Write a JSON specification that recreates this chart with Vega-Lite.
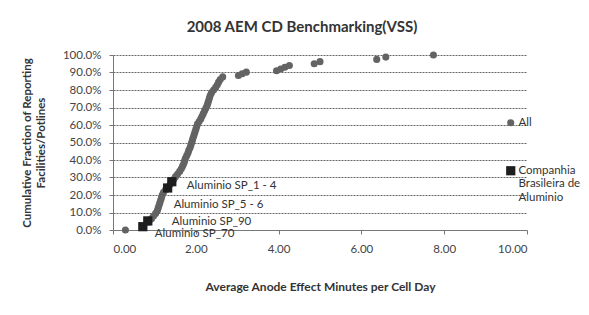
{
  "$schema": "https://vega.github.io/schema/vega-lite/v6.json",
  "width": 414,
  "height": 175,
  "autosize": {"type": "none"},
  "padding": {"left": 113, "top": 55, "right": 62, "bottom": 85},
  "background": "white",
  "title": {"text": "2008 AEM CD Benchmarking(VSS)", "font": "Lato", "fontSize": 15, "fontWeight": "bold", "color": "#333333", "offset": 14, "dx": -18},
  "data": {"values": [
    {"x": 0.30, "y": 0.000, "series": "All"},
    {"x": 0.74, "y": 0.015, "series": "All"},
    {"x": 0.86, "y": 0.045, "series": "All"},
    {"x": 0.93, "y": 0.065, "series": "All"},
    {"x": 0.98, "y": 0.080, "series": "All"},
    {"x": 1.03, "y": 0.095, "series": "All"},
    {"x": 1.07, "y": 0.110, "series": "All"},
    {"x": 1.09, "y": 0.125, "series": "All"},
    {"x": 1.11, "y": 0.140, "series": "All"},
    {"x": 1.13, "y": 0.155, "series": "All"},
    {"x": 1.15, "y": 0.170, "series": "All"},
    {"x": 1.17, "y": 0.185, "series": "All"},
    {"x": 1.19, "y": 0.200, "series": "All"},
    {"x": 1.22, "y": 0.215, "series": "All"},
    {"x": 1.27, "y": 0.230, "series": "All"},
    {"x": 1.33, "y": 0.245, "series": "All"},
    {"x": 1.38, "y": 0.260, "series": "All"},
    {"x": 1.43, "y": 0.275, "series": "All"},
    {"x": 1.47, "y": 0.290, "series": "All"},
    {"x": 1.51, "y": 0.305, "series": "All"},
    {"x": 1.56, "y": 0.320, "series": "All"},
    {"x": 1.61, "y": 0.335, "series": "All"},
    {"x": 1.65, "y": 0.350, "series": "All"},
    {"x": 1.68, "y": 0.365, "series": "All"},
    {"x": 1.71, "y": 0.380, "series": "All"},
    {"x": 1.73, "y": 0.395, "series": "All"},
    {"x": 1.75, "y": 0.410, "series": "All"},
    {"x": 1.78, "y": 0.425, "series": "All"},
    {"x": 1.81, "y": 0.440, "series": "All"},
    {"x": 1.83, "y": 0.455, "series": "All"},
    {"x": 1.86, "y": 0.470, "series": "All"},
    {"x": 1.88, "y": 0.485, "series": "All"},
    {"x": 1.90, "y": 0.500, "series": "All"},
    {"x": 1.92, "y": 0.515, "series": "All"},
    {"x": 1.94, "y": 0.530, "series": "All"},
    {"x": 1.96, "y": 0.545, "series": "All"},
    {"x": 1.98, "y": 0.560, "series": "All"},
    {"x": 2.00, "y": 0.575, "series": "All"},
    {"x": 2.02, "y": 0.590, "series": "All"},
    {"x": 2.04, "y": 0.605, "series": "All"},
    {"x": 2.08, "y": 0.620, "series": "All"},
    {"x": 2.12, "y": 0.635, "series": "All"},
    {"x": 2.15, "y": 0.650, "series": "All"},
    {"x": 2.18, "y": 0.665, "series": "All"},
    {"x": 2.21, "y": 0.680, "series": "All"},
    {"x": 2.24, "y": 0.695, "series": "All"},
    {"x": 2.27, "y": 0.710, "series": "All"},
    {"x": 2.29, "y": 0.725, "series": "All"},
    {"x": 2.31, "y": 0.740, "series": "All"},
    {"x": 2.33, "y": 0.755, "series": "All"},
    {"x": 2.35, "y": 0.770, "series": "All"},
    {"x": 2.38, "y": 0.785, "series": "All"},
    {"x": 2.43, "y": 0.800, "series": "All"},
    {"x": 2.48, "y": 0.815, "series": "All"},
    {"x": 2.52, "y": 0.830, "series": "All"},
    {"x": 2.55, "y": 0.845, "series": "All"},
    {"x": 2.59, "y": 0.860, "series": "All"},
    {"x": 2.65, "y": 0.875, "series": "All"},
    {"x": 3.03, "y": 0.883, "series": "All"},
    {"x": 3.12, "y": 0.893, "series": "All"},
    {"x": 3.22, "y": 0.902, "series": "All"},
    {"x": 3.95, "y": 0.910, "series": "All"},
    {"x": 4.05, "y": 0.920, "series": "All"},
    {"x": 4.15, "y": 0.930, "series": "All"},
    {"x": 4.26, "y": 0.940, "series": "All"},
    {"x": 4.86, "y": 0.950, "series": "All"},
    {"x": 5.00, "y": 0.962, "series": "All"},
    {"x": 6.37, "y": 0.975, "series": "All"},
    {"x": 6.59, "y": 0.988, "series": "All"},
    {"x": 7.74, "y": 1.000, "series": "All"},
    {"x": 0.72, "y": 0.019, "series": "Companhia Brasileira de Aluminio", "label": "Aluminio SP_70"},
    {"x": 0.84, "y": 0.052, "series": "Companhia Brasileira de Aluminio", "label": "Aluminio SP_90"},
    {"x": 1.32, "y": 0.240, "series": "Companhia Brasileira de Aluminio", "label": "Aluminio SP_5 - 6"},
    {"x": 1.42, "y": 0.276, "series": "Companhia Brasileira de Aluminio", "label": "Aluminio SP_1 - 4"}
  ]},
  "encoding": {
    "x": {"field": "x", "type": "quantitative", "scale": {"domain": [0, 10], "nice": false, "zero": false},
      "axis": {"tickCount": 5, "format": ".2f", "grid": false, "title": "Average Anode Effect Minutes per Cell Day", "titlePadding": 27, "labelPadding": 9, "titleFontSize": 12}},
    "y": {"field": "y", "type": "quantitative", "scale": {"domain": [0, 1], "nice": false},
      "axis": {"tickCount": 10, "labelOverlap": false, "format": ".1%", "grid": true, "gridColor": "#666666", "gridDash": [2, 1], "gridWidth": 1, "title": ["Cumulative Fraction of Reporting", "Facilities/Potlines"], "titlePadding": 16, "labelPadding": 8, "titleFontSize": 11.5}}
  },
  "layer": [
    {
      "mark": {"type": "point", "filled": true, "opacity": 1},
      "encoding": {
        "color": {"field": "series", "type": "nominal", "scale": {"domain": ["All", "Companhia Brasileira de Aluminio"], "range": ["#636363", "#1e1e1e"]},
          "legend": {"orient": "none", "legendX": 392, "legendY": 62, "title": null, "rowPadding": 35,
            "labelExpr": "datum.label == 'All' ? 'All' : ['Companhia', 'Brasileira de', 'Aluminio']",
            "labelBaseline": "middle", "labelLimit": 0, "labelOffset": 2, "symbolSize": 55, "padding": 0}},
        "shape": {"field": "series", "type": "nominal", "scale": {"domain": ["All", "Companhia Brasileira de Aluminio"], "range": ["circle", "square"]}},
        "size": {"field": "series", "type": "nominal", "scale": {"domain": ["All", "Companhia Brasileira de Aluminio"], "range": [50, 85]}, "legend": null}
      }
    },
    {
      "transform": [{"filter": "datum.label == 'Aluminio SP_70'"}],
      "mark": {"type": "text", "align": "left", "baseline": "middle", "dx": 12, "dy": 7, "font": "Lato", "fontSize": 11.5, "color": "#333333"},
      "encoding": {"text": {"field": "label"}}
    },
    {
      "transform": [{"filter": "datum.label == 'Aluminio SP_90'"}],
      "mark": {"type": "text", "align": "left", "baseline": "middle", "dx": 24, "dy": 1, "font": "Lato", "fontSize": 11.5, "color": "#333333"},
      "encoding": {"text": {"field": "label"}}
    },
    {
      "transform": [{"filter": "datum.label == 'Aluminio SP_5 - 6'"}],
      "mark": {"type": "text", "align": "left", "baseline": "middle", "dx": 6, "dy": 17, "font": "Lato", "fontSize": 11.5, "color": "#333333"},
      "encoding": {"text": {"field": "label"}}
    },
    {
      "transform": [{"filter": "datum.label == 'Aluminio SP_1 - 4'"}],
      "mark": {"type": "text", "align": "left", "baseline": "middle", "dx": 15, "dy": 4, "font": "Lato", "fontSize": 11.5, "color": "#333333"},
      "encoding": {"text": {"field": "label"}}
    }
  ],
  "config": {
    "view": {"stroke": null},
    "font": "Lato",
    "axis": {"labelFont": "Lato", "labelFontSize": 11.5, "labelColor": "#444444", "titleFont": "Lato", "titleFontWeight": "bold", "titleColor": "#333333",
      "domainColor": "#777777", "tickColor": "#777777", "tickSize": 4},
    "legend": {"labelFont": "Lato", "labelFontSize": 11.5, "labelColor": "#333333"}
  }
}
